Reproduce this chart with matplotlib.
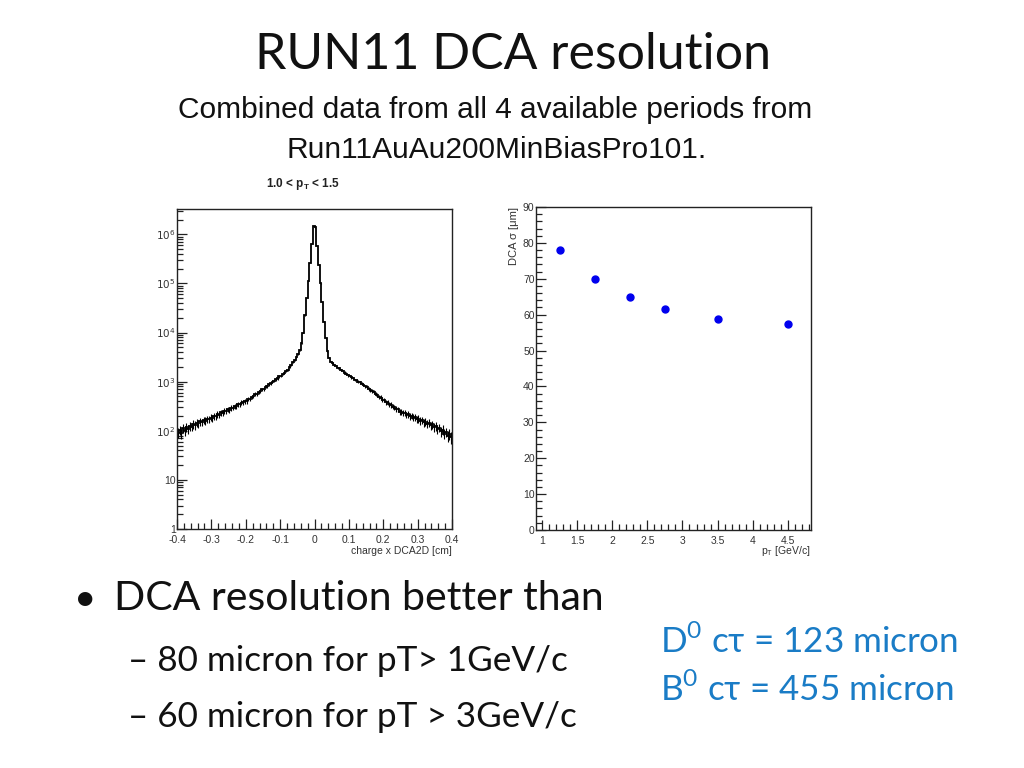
import numpy as np
import matplotlib
matplotlib.use("Agg")
import matplotlib.pyplot as plt
from matplotlib.ticker import MultipleLocator, FixedLocator, NullFormatter, LogLocator

# ---------------- data ----------------
# histogram: charge x DCA2D [cm], bin width 0.005, 160 bins from -0.4 to 0.4
dca_edges_lo = -0.4
dca_edges_hi = 0.4
dca_counts_left = [
    91, 104, 89, 112, 101, 118, 109, 126, 121, 137,
    130, 146, 141, 155, 150, 166, 159, 175, 170, 185,
    183, 200, 196, 215, 214, 236, 231, 252, 250, 272,
    270, 296, 297, 318, 320, 347, 350, 374, 377, 398,
    402, 446, 452, 498, 507, 560, 570, 625, 640, 702,
    718, 788, 806, 882, 925, 990, 1040, 1110, 1165, 1275,
    1305, 1430, 1535, 1680, 1765, 1970, 2170, 2480, 2740, 3190,
]
dca_counts_peak = [
    3630, 4365, 6030, 10000, 22400, 50100, 112000, 263000, 631000, 1445000,
    1380000, 575000, 240000, 100000, 41700, 16600, 7590, 4170, 3090, 2570,
]
dca_counts_right = [
    2360, 2220, 2105, 1935, 1880, 1725, 1640, 1535, 1460, 1338,
    1300, 1218, 1190, 1085, 1060, 990, 968, 903, 862, 805,
    785, 716, 686, 638, 612, 556, 533, 494, 475, 431,
    424, 383, 379, 349, 338, 310, 301, 276, 275, 246,
    246, 229, 230, 213, 215, 199, 201, 186, 188, 172,
    176, 160, 164, 149, 154, 139, 144, 129, 135, 120,
    126, 109, 116, 98, 106, 88, 95, 80, 86, 74,
]

# DCA sigma vs pT
pt_values = [1.25, 1.75, 2.25, 2.75, 3.5, 4.5]
sigma_values = [78.0, 70.0, 65.0, 61.5, 58.7, 57.3]

log_tick_values = [1, 10, 100, 1000, 10000, 100000, 1000000]
log_tick_labels = ["1", "10", r"$10^{2}$", r"$10^{3}$", r"$10^{4}$", r"$10^{5}$", r"$10^{6}$"]
dca_tick_values = [-0.4, -0.3, -0.2, -0.1, 0, 0.1, 0.2, 0.3, 0.4]
dca_tick_labels = ["-0.4", "-0.3", "-0.2", "-0.1", "0", "0.1", "0.2", "0.3", "0.4"]
pt_tick_values = [1, 1.5, 2, 2.5, 3, 3.5, 4, 4.5]
pt_tick_labels = ["1", "1.5", "2", "2.5", "3", "3.5", "4", "4.5"]

# ---------------- figure ----------------
W, H = 1024, 768
fig = plt.figure(figsize=(W / 100, H / 100), dpi=100)
fig.patch.set_facecolor("white")

def fx(px):
    return px / W

def fy(py):
    return 1 - py / H

SLIDE_FONT = ["Lato", "DejaVu Sans"]
ROOT_FONT = ["Liberation Sans", "DejaVu Sans"]

# Title
fig.text(fx(513), fy(55), "RUN11 DCA resolution", ha="center", va="center",
         fontsize=36, family=SLIDE_FONT, color="#111111")

# Header from ROOT picture
fig.text(fx(495), fy(110), "Combined data from all 4 available periods from",
         ha="center", va="center", fontsize=21.5, family=ROOT_FONT, color="#111111")
fig.text(fx(497), fy(150), "Run11AuAu200MinBiasPro101.",
         ha="center", va="center", fontsize=21.5, family=ROOT_FONT, color="#111111")
fig.text(fx(266), fy(184), r"1.0 < p$_{\mathregular{T}}$ < 1.5", ha="left", va="center",
         fontsize=8.5, family=ROOT_FONT, fontweight="bold", color="#222222")

# ---------- left: DCA distribution ----------
axL = fig.add_axes([fx(177), fy(529), fx(452) - fx(177), fy(209) - fy(529)])
counts = np.array(dca_counts_left + dca_counts_peak + dca_counts_right, dtype=float)
edges = np.linspace(dca_edges_lo, dca_edges_hi, len(counts) + 1)
axL.stairs(counts, edges, color="black", linewidth=1.3, baseline=None)
centers = 0.5 * (edges[:-1] + edges[1:])
axL.errorbar(centers, counts, yerr=np.sqrt(counts) * 2.2, fmt="none",
             ecolor="black", elinewidth=0.8)
axL.set_yscale("log")
axL.set_xlim(-0.4, 0.4)
axL.set_ylim(1, 10 ** 6.516)
axL.yaxis.set_major_locator(FixedLocator(log_tick_values))
axL.set_yticklabels(log_tick_labels)
axL.yaxis.set_minor_locator(LogLocator(base=10, subs=np.arange(2, 10)))
axL.yaxis.set_minor_formatter(NullFormatter())
axL.xaxis.set_minor_locator(MultipleLocator(0.02))
axL.set_xticks(dca_tick_values)
axL.set_xticklabels(dca_tick_labels)
fig.text(fx(452), fy(551), "charge x DCA2D [cm]", ha="right", va="center",
         fontsize=7.5, family=ROOT_FONT, color="#333333")

# ---------- right: sigma vs pT ----------
axR = fig.add_axes([fx(536), fy(530), fx(811) - fx(536), fy(207) - fy(530)])
axR.plot(pt_values, sigma_values, "o", color="#0000ee", markersize=5)
axR.set_xlim(0.915, 4.83)
axR.set_ylim(0, 90)
axR.xaxis.set_minor_locator(MultipleLocator(0.1))
axR.yaxis.set_major_locator(MultipleLocator(10))
axR.yaxis.set_minor_locator(MultipleLocator(2))
axR.set_xticks(pt_tick_values)
axR.set_xticklabels(pt_tick_labels)
fig.text(fx(810), fy(551), r"p$_{\mathregular{T}}$ [GeV/c]", ha="right", va="center",
         fontsize=7.5, family=ROOT_FONT, color="#333333")
fig.text(fx(514), fy(207), "DCA σ [μm]", ha="center", va="top", rotation=90,
         fontsize=8, family=ROOT_FONT, color="#333333")

for ax in (axL, axR):
    for sp in ax.spines.values():
        sp.set_linewidth(1.0)
        sp.set_color("#222222")
    ax.tick_params(which="major", direction="in", length=7, width=0.9, labelsize=7.5,
                   colors="#222222", top=False, right=False)
    ax.tick_params(which="minor", direction="in", length=4, width=0.9,
                   top=False, right=False, colors="#222222")
    ax.tick_params(axis="x", which="major", pad=4)
    ax.tick_params(axis="y", which="major", pad=1)
    for lab in ax.get_xticklabels() + ax.get_yticklabels():
        lab.set_family(ROOT_FONT)
        lab.set_color("#333333")

# ---------- slide text ----------
fig.text(fx(74), fy(599), "•", ha="left", va="center", fontsize=28,
         family=SLIDE_FONT, color="#111111")
fig.text(fx(114), fy(599), "DCA resolution better than", ha="left", va="center",
         fontsize=29.5, family=SLIDE_FONT, color="#111111")
fig.text(fx(128), fy(661), "– 80 micron for pT> 1GeV/c", ha="left", va="center",
         fontsize=25.3, family=SLIDE_FONT, color="#111111")
fig.text(fx(128), fy(717), "– 60 micron for pT > 3GeV/c", ha="left", va="center",
         fontsize=25.3, family=SLIDE_FONT, color="#111111")

BLUE = "#1a7cc6"
fig.text(fx(660), fy(641), r"D$^{\mathregular{0}}$ cτ = 123 micron", ha="left", va="center",
         fontsize=25.2, family=SLIDE_FONT, color=BLUE)
fig.text(fx(660), fy(689), r"B$^{\mathregular{0}}$ cτ = 455 micron", ha="left", va="center",
         fontsize=25.2, family=SLIDE_FONT, color=BLUE)

fig.savefig("out.png", dpi=100, facecolor="white")
